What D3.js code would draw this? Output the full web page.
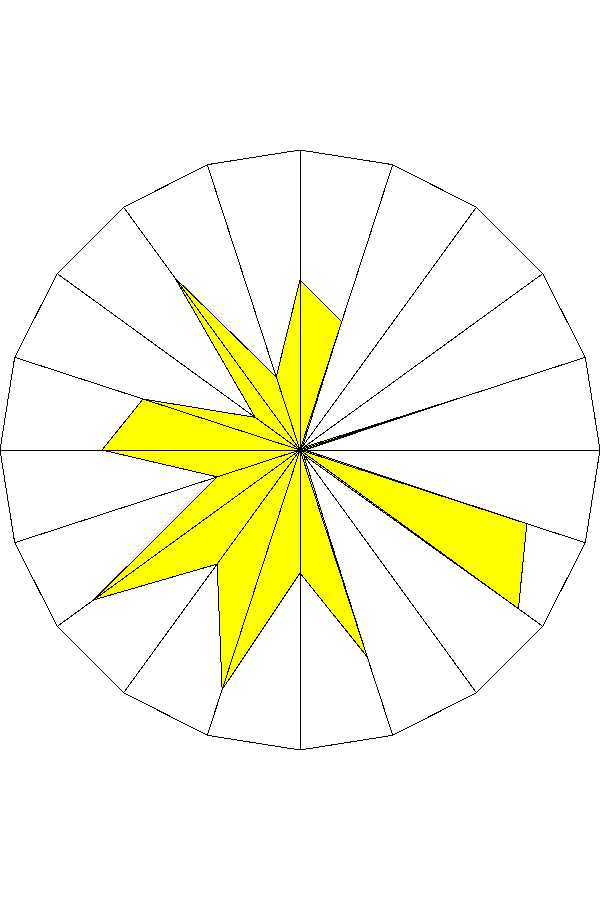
<!DOCTYPE html>
<html>
<head>
<meta charset="utf-8">
<script src="https://cdn.jsdelivr.net/npm/d3@7"></script>
<style>
html,body{margin:0;padding:0;background:#fff;}
svg{display:block;}
</style>
</head>
<body>
<svg id="chart" width="600" height="900"></svg>
<script>
// Axes (20 spokes, clockwise from top)
const axes = ["A1","A2","A3","A4","A5","A6","A7","A8","A9","A10",
              "A11","A12","A13","A14","A15","A16","A17","A18","A19","A20"];
// Series values (0-100 scale)
const values = [56.7, 45, 1.5, 1.5, 60, 1.5, 79.5, 90, 2, 72.5,
                41, 84, 47, 85, 29, 66, 55, 18.5, 71, 25.6];
const maxValue = 100;

const svg = d3.select("#chart").attr("shape-rendering", "crispEdges");
const cx = 300, cy = 450, R = 300;
const g = svg.append("g").attr("transform", `translate(${cx},${cy})`);

const angle = d3.scaleBand().domain(axes).range([0, 2*Math.PI]).paddingInner(0).paddingOuter(0);
const angleOf = d => angle(d);
const r = d3.scaleLinear().domain([0, maxValue]).range([0, R]);

// outer frame
const frame = axes.map(a => [Math.sin(angleOf(a))*R, -Math.cos(angleOf(a))*R]);
g.append("polygon")
  .attr("points", frame.map(p => p.join(",")).join(" "))
  .attr("fill", "none").attr("stroke", "#000").attr("stroke-width", 1);

// data area
const line = d3.lineRadial()
  .angle((d,i) => angleOf(axes[i]))
  .radius(d => r(d))
  .curve(d3.curveLinearClosed);
g.append("path")
  .attr("d", line(values))
  .attr("fill", "#ffff00")
  .attr("stroke", "#000")
  .attr("stroke-width", 1);

// spokes
g.selectAll("line.spoke").data(axes).enter().append("line")
  .attr("class","spoke")
  .attr("x1",0).attr("y1",0)
  .attr("x2", a => Math.sin(angleOf(a))*R)
  .attr("y2", a => -Math.cos(angleOf(a))*R)
  .attr("stroke","#000").attr("stroke-width",1);
</script>
</body>
</html>
